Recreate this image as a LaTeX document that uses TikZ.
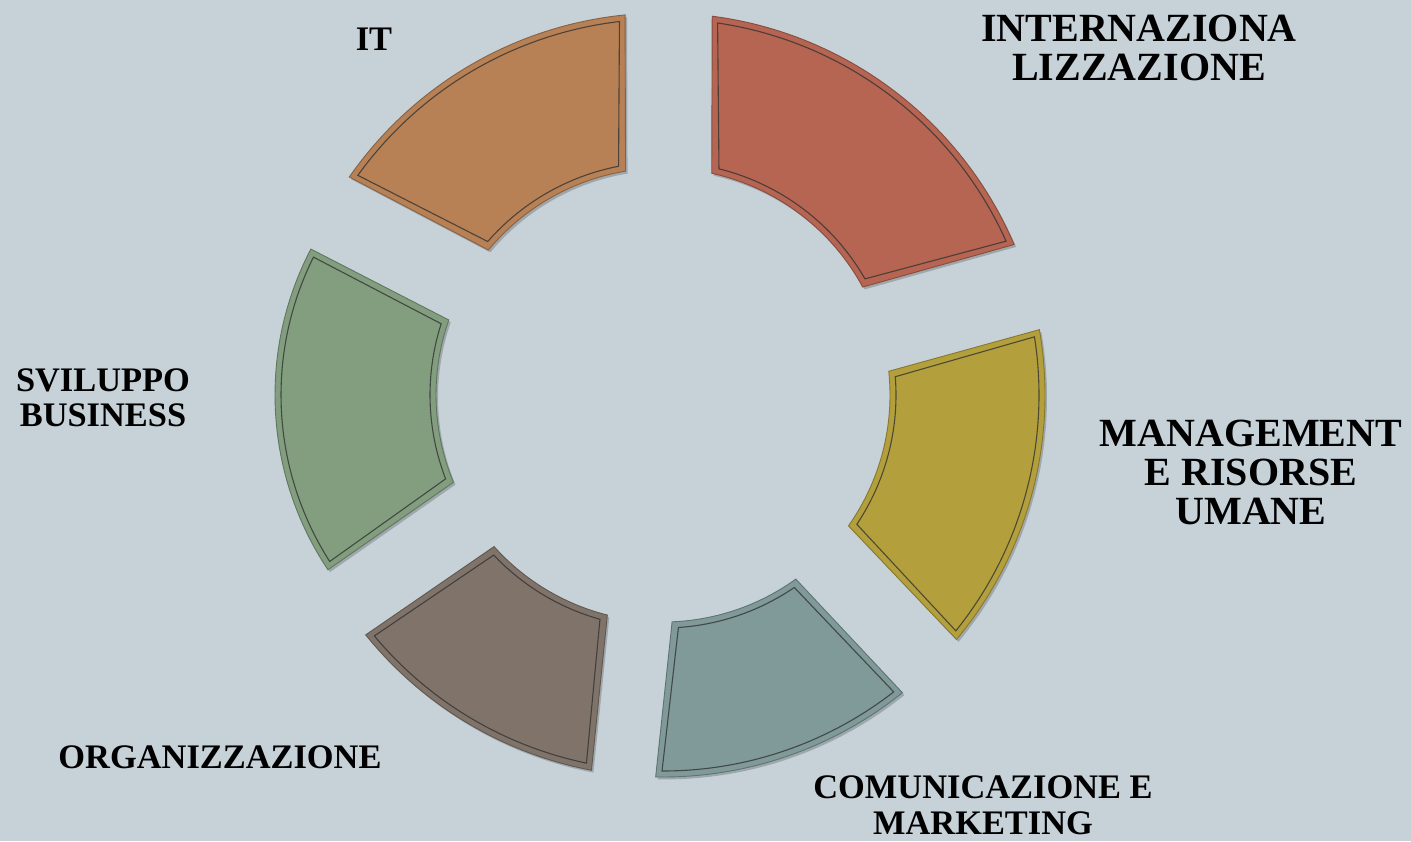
\documentclass[tikz,border=0pt]{standalone}
\usepackage{fontspec}
\setmainfont{Liberation Serif}
\usetikzlibrary{shadows}
\definecolor{bgc}{HTML}{C6D1D8}
\definecolor{itc}{HTML}{B78155}
\definecolor{redc}{HTML}{B56552}
\definecolor{yelc}{HTML}{B3A03C}
\definecolor{tealc}{HTML}{7F9A99}
\definecolor{brownc}{HTML}{80746A}
\definecolor{greenc}{HTML}{829E7F}
\newcommand\ringseg[5]{%
 \path[segbody=#1] (#2:382) arc[start angle=#2, end angle=#3, radius=382] -- (#5:227) arc[start angle=#5, end angle=#4, radius=227] -- cycle;
 \pgfmathsetmacro\pa{#2+0.95}\pgfmathsetmacro\pb{#3-0.95}%
 \pgfmathsetmacro\qa{#4+1.5}\pgfmathsetmacro\qb{#5-1.5}%
 \draw[insetline] (\pa:376) arc[start angle=\pa, end angle=\pb, radius=376] -- (\qb:233) arc[start angle=\qb, end angle=\qa, radius=233] -- cycle;
}
\begin{document}
\begin{tikzpicture}[x=0.5pt, y=0.5pt,
  segbody/.style={fill=#1, draw=#1!75!black, line width=0.45pt, drop shadow={shadow xshift=1pt, shadow yshift=-1.2pt, fill=black, opacity=0.2}},
  insetline/.style={draw=black!80, line width=0.55pt, opacity=0.8},
  biglbl/.style={inner sep=0pt, align=center, font=\fontsize{20}{19.5}\selectfont\bfseries},
  smalllbl/.style={inner sep=0pt, align=center, font=\fontsize{17.2}{18}\selectfont\bfseries}]
\fill[bgc] (0,0) rectangle (1411,841);
\useasboundingbox (0,0) rectangle (1411,841);
\begin{scope}[shift={(663,446)}]
 \ringseg{itc}{95.7}{145.2}{99.5}{140.3}
 \ringseg{redc}{23.2}{82.6}{28.4}{77.6}
 \ringseg{yelc}{-39.8}{9.85}{-35.2}{6.0}
 \ringseg{tealc}{-91.1}{-51.2}{-87.7}{-54.2}
 \ringseg{brownc}{-141.1}{-100.8}{-138.1}{-104.2}
 % green segment: its outer rim bulges further out
 \path[segbody=greenc] ([shift={(-73,0)}]152.4:315) arc[start angle=152.4, end angle=213.7, radius=315] -- (202.6:227) arc[start angle=202.6, end angle=160.7, radius=227] -- cycle;
 \draw[insetline] ([shift={(-73,0)}]153.5:309) arc[start angle=153.5, end angle=212.6, radius=309] -- (201.1:233) arc[start angle=201.1, end angle=162.2, radius=233] -- cycle;
\end{scope}
\node[smalllbl] (it) at (374,802) {IT};
\node[biglbl] (intl) at (1139,793.5) {INTERNAZIONA\\LIZZAZIONE};
\node[biglbl] (mgmt) at (1251,369) {MANAGEMENT\\E RISORSE\\UMANE};
\node[smalllbl, font=\fontsize{17.2}{17.5}\selectfont\bfseries] (svil) at (103,443.5) {SVILUPPO\\BUSINESS};
\node[smalllbl] (org) at (220,84) {ORGANIZZAZIONE};
\node[smalllbl] (comm) at (983,36) {COMUNICAZIONE E\\MARKETING};
\end{tikzpicture}
\end{document}
